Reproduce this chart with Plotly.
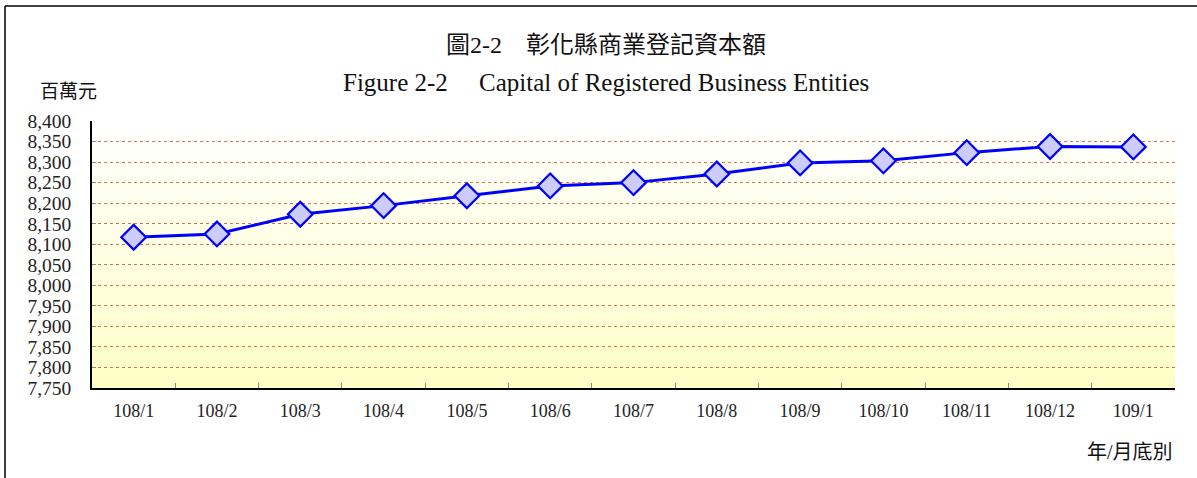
import plotly.graph_objects as go

categories = ["108/1", "108/2", "108/3", "108/4", "108/5", "108/6", "108/7",
              "108/8", "108/9", "108/10", "108/11", "108/12", "109/1"]
capital = [8117, 8125, 8173, 8194, 8218, 8242, 8250, 8271, 8298, 8303, 8323, 8338, 8337]
y_ticks = list(range(7750, 8401, 50))
y_tick_labels = [f"{v:,}" for v in y_ticks]

W, H = 1197, 478
L, R, T, B = 92, 1175, 121, 388

def px(xp):
    return (xp - L) / (R - L)

def py(yp):
    return (B - yp) / (B - T)

SERIF = "Liberation Serif, Times New Roman, Noto Sans CJK TC, serif"

fig = go.Figure()
fig.add_trace(go.Scatter(
    x=categories, y=capital, mode="lines+markers",
    line=dict(color="#0000FF", width=3),
    marker=dict(symbol="diamond", size=19, color="#CCCCFF",
                line=dict(color="#0000FF", width=2.2)),
    hoverinfo="x+y", showlegend=False,
))

# gradient background
shapes = []
n = 60
top = (255, 255, 255)
bot = (255, 255, 196)
for i in range(n):
    t = (i + 0.5) / n
    c = tuple(round(top[k] + (bot[k] - top[k]) * t) for k in range(3))
    shapes.append(dict(type="rect", xref="x domain", yref="y domain",
                       x0=0, x1=1, y0=1 - (i + 1) / n, y1=1 - i / n,
                       fillcolor=f"rgb{c}", line=dict(width=0), layer="below"))
# outer frame lines
shapes.append(dict(type="line", xref="paper", yref="paper",
                   x0=px(5), x1=px(W + 5), y0=py(6), y1=py(6),
                   line=dict(color="black", width=1.5)))
shapes.append(dict(type="line", xref="paper", yref="paper",
                   x0=px(5), x1=px(5), y0=py(6), y1=py(H + 5),
                   line=dict(color="black", width=1.5)))

annotations = [
    dict(text="圖2-2　彰化縣商業登記資本額", xref="paper", yref="paper",
         x=px(606), y=py(45), showarrow=False, xanchor="center", yanchor="middle",
         font=dict(family=SERIF, size=24, color="#111")),
    dict(text="Figure 2-2　 Capital of Registered Business Entities", xref="paper", yref="paper",
         x=px(606), y=py(82), showarrow=False, xanchor="center", yanchor="middle",
         font=dict(family=SERIF, size=25, color="#111")),
    dict(text="百萬元", xref="paper", yref="paper",
         x=px(68), y=py(92), showarrow=False, xanchor="center", yanchor="middle",
         font=dict(family=SERIF, size=19, color="#111")),
    dict(text="年/月底別", xref="paper", yref="paper",
         x=px(1130), y=py(452), showarrow=False, xanchor="center", yanchor="middle",
         font=dict(family=SERIF, size=20, color="#111")),
]

fig.update_layout(
    width=W, height=H,
    margin=dict(l=L, r=W - R, t=T, b=H - B, pad=0),
    paper_bgcolor="white", plot_bgcolor="rgba(0,0,0,0)",
    shapes=shapes, annotations=annotations,
    xaxis=dict(type="category", range=[-0.5, 12.5], showgrid=False,
               showline=True, linecolor="black", linewidth=1.5,
               ticks="inside", tickson="boundaries", ticklen=5, tickcolor="#888",
               tickfont=dict(family=SERIF, size=18, color="#222"),
               ticklabelstandoff=6, zeroline=False, fixedrange=True),
    yaxis=dict(range=[7750, 8400], tickvals=y_ticks, ticktext=y_tick_labels,
               showgrid=True, gridcolor="#C87850", griddash="dot", gridwidth=1,
               showline=True, linecolor="black", linewidth=1.5,
               ticks="inside", ticklen=4, tickcolor="#888",
               tickfont=dict(family=SERIF, size=19.5, color="#222"),
               ticklabelstandoff=15, zeroline=False, fixedrange=True),
)

fig.write_html("out.html", config={"displayModeBar": False},
               post_script="document.body.style.margin='0';")
